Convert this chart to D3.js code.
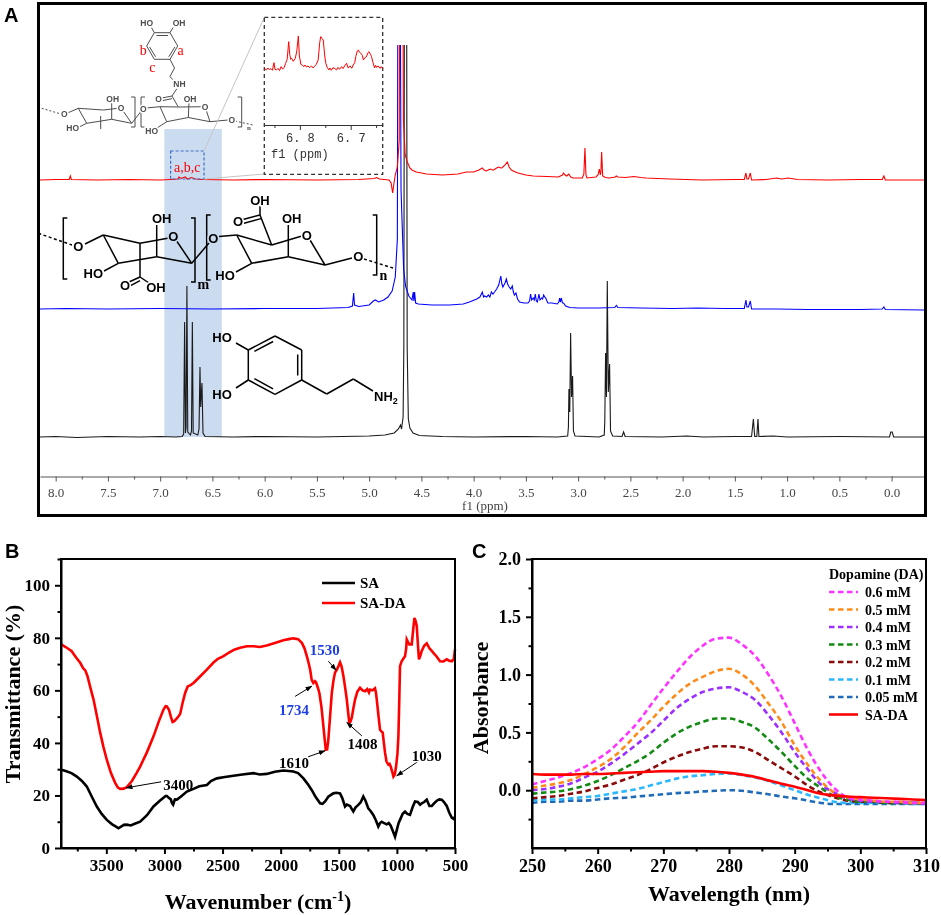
<!DOCTYPE html>
<html lang="en">
<head>
<meta charset="UTF-8">
<title>SA-DA characterization</title>
<script src="https://d3js.org/d3.v7.min.js"></script>
<style>
  body { margin: 0; background: #fff; }
  svg { display: block; }
</style>
</head>
<body>
<svg id="fig" width="941" height="915"></svg>
<script>
// ---------- data: panel A (1H NMR, ppm / height above each trace's baseline) ----------
const nmrDA = [[8.15,0],[8.0,0.5],[7.8,-0.5],[7.5,0.5],[7.2,0],[7.0,0.5],[6.85,0],[6.79,0.5],[6.775,3],[6.766,115],[6.758,4],[6.752,10],[6.744,151],[6.736,5],[6.71,2],[6.700,6],[6.692,115],[6.684,4],[6.64,2],[6.628,8],[6.619,70],[6.612,30],[6.600,54],[6.590,4],[6.57,0.5],[6.3,0],[6.0,0.5],[5.5,0],[5.0,1],[4.85,2],[4.76,4],[4.72,8],[4.70,12],[4.69,8],[4.675,20],[4.668,90],[4.662,500],[4.642,500],[4.636,90],[4.625,18],[4.61,9],[4.58,4],[4.52,1.5],[4.3,0.5],[4.0,0],[3.5,0.5],[3.2,0],[3.10,1],[3.093,10],[3.088,48],[3.080,25],[3.072,104],[3.063,40],[3.053,61],[3.045,6],[3.03,1],[2.80,0],[2.75,2],[2.745,15],[2.737,84],[2.729,40],[2.721,156],[2.711,45],[2.699,73],[2.69,6],[2.67,1],[2.58,0.5],[2.565,5],[2.55,0.5],[2.2,0],[1.96,1],[1.8,0],[1.50,0.5],[1.34,0.5],[1.323,18],[1.31,0.5],[1.29,0.5],[1.279,18],[1.27,0.5],[1.13,1],[1.0,0],[0.5,0.5],[0.02,0],[0.008,5],[-0.005,5],[-0.02,0],[-0.31,0]];

const nmrSA = [[8.15,0],[7.9,0.5],[7.5,0],[7.0,0.5],[6.5,0],[6.0,0.5],[5.5,0.5],[5.2,1.5],[5.16,3],[5.148,16],[5.14,4],[5.10,2.5],[5.0,4],[4.96,8],[4.94,9],[4.91,7],[4.86,9],[4.82,12],[4.78,18],[4.75,32],[4.73,70],[4.722,500],[4.708,500],[4.695,120],[4.67,40],[4.65,22],[4.62,13],[4.59,9],[4.578,17],[4.572,8],[4.565,17],[4.555,6],[4.53,5],[4.40,4],[4.23,4],[4.10,5],[4.04,7],[3.97,10],[3.94,12],[3.917,17],[3.905,12],[3.895,13],[3.875,12],[3.86,14],[3.845,12],[3.83,17],[3.815,15],[3.80,17],[3.78,20],[3.76,24],[3.74,33],[3.73,25],[3.72,22],[3.70,26],[3.687,30],[3.675,25],[3.66,22],[3.645,20],[3.63,23],[3.62,17],[3.61,14],[3.595,16],[3.58,10],[3.56,7],[3.52,6],[3.48,6],[3.465,8],[3.455,15],[3.445,9],[3.43,11],[3.42,9],[3.41,15],[3.40,8],[3.39,7],[3.375,15],[3.365,9],[3.35,11],[3.34,10],[3.33,14],[3.32,12],[3.31,11],[3.29,6],[3.25,6],[3.20,5],[3.185,7],[3.177,11],[3.17,7],[3.16,11],[3.15,6],[3.14,6],[3.12,3],[3.08,1.5],[3.0,1],[2.80,1],[2.65,1.5],[2.634,3.5],[2.62,1.5],[2.4,1],[2.1,0.5],[1.85,1],[1.6,0.5],[1.41,0.5],[1.394,9],[1.385,2],[1.37,2],[1.352,8],[1.34,0],[1.1,0],[0.8,-0.5],[0.3,-0.5],[0.09,0],[0.074,2],[0.06,-0.5],[-0.31,-1]];

const nmrSADA = [[8.15,0],[8.0,0.5],[7.87,0.5],[7.86,4],[7.85,0.5],[7.6,0],[7.3,0.5],[7.0,0],[6.90,0.5],[6.83,1],[6.82,3],[6.80,1.5],[6.76,3],[6.74,1],[6.70,2.5],[6.66,1],[6.6,0.5],[6.3,0],[6.0,0.5],[5.5,0],[5.1,0.5],[4.95,1.5],[4.93,2.5],[4.90,1],[4.81,0],[4.79,-3],[4.775,-13],[4.765,-5],[4.75,5],[4.73,13],[4.712,40],[4.700,500],[4.688,500],[4.672,60],[4.655,25],[4.635,18],[4.61,12],[4.59,10],[4.55,8],[4.45,6],[4.30,5],[4.15,6],[4.07,8],[4.0,8],[3.95,10],[3.917,12],[3.90,10],[3.88,9],[3.86,10],[3.84,11],[3.82,10],[3.81,10],[3.78,12],[3.76,13],[3.74,12],[3.73,12],[3.70,15],[3.678,18],[3.66,13],[3.64,10],[3.60,8],[3.575,7],[3.50,5],[3.43,4],[3.30,3.5],[3.19,3],[3.15,5],[3.14,7],[3.125,5],[3.11,4],[3.09,6],[3.07,3],[3.05,2],[2.96,2],[2.945,6],[2.935,32],[2.925,5],[2.915,2],[2.83,3],[2.81,5],[2.797,11],[2.788,5],[2.782,8],[2.775,28],[2.765,4],[2.74,2.5],[2.70,2],[2.645,3],[2.635,4],[2.62,3],[2.55,2.5],[2.466,3.5],[2.40,2.5],[2.35,2],[2.12,1],[1.81,0],[1.5,0.5],[1.41,0.5],[1.394,7],[1.385,1],[1.37,1],[1.352,7],[1.34,0],[1.2,0.5],[1.10,2],[1.05,1],[0.99,2],[0.9,0.5],[0.6,0],[0.3,0.5],[0.09,0.5],[0.074,4],[0.06,0],[-0.31,0]];

// zoomed aromatic region of SA-DA (ppm / relative intensity)
const nmrInset = [[6.870,3],[6.866,-2],[6.863,4],[6.860,-1],[6.857,2],[6.854,-3],[6.851,20],[6.849,0],[6.846,-2],[6.843,3],[6.840,-4],[6.837,8],[6.834,1],[6.831,5],[6.828,18],[6.825,30],[6.822,83],[6.820,45],[6.818,30],[6.816,33],[6.813,24],[6.811,28],[6.809,33],[6.806,55],[6.803,100],[6.801,40],[6.798,15],[6.795,12],[6.792,8],[6.790,13],[6.787,7],[6.784,10],[6.781,5],[6.777,10],[6.774,4],[6.771,9],[6.768,14],[6.764,28],[6.761,80],[6.759,98],[6.756,92],[6.754,88],[6.751,40],[6.749,18],[6.746,5],[6.743,-2],[6.741,4],[6.738,-3],[6.735,5],[6.731,2],[6.728,-2],[6.725,6],[6.722,0],[6.718,8],[6.715,2],[6.712,10],[6.708,18],[6.705,4],[6.701,10],[6.698,3],[6.695,13],[6.692,20],[6.690,38],[6.687,55],[6.685,58],[6.682,50],[6.680,48],[6.677,42],[6.675,28],[6.672,35],[6.669,38],[6.666,50],[6.664,53],[6.661,45],[6.659,38],[6.656,20],[6.653,4],[6.651,12],[6.649,6],[6.646,10],[6.642,3],[6.640,8],[6.637,2]];

const ppmMajor = [8.0,7.5,7.0,6.5,6.0,5.5,5.0,4.5,4.0,3.5,3.0,2.5,2.0,1.5,1.0,0.5,0.0];
const ppmMinor = [7.75,7.25,6.75,6.25,5.75,5.25,4.75,4.25,3.75,3.25,2.75,2.25,1.75,1.25,0.75,0.25];
const insetMajor = [6.8, 6.7];
const insetMinor = [6.85, 6.75, 6.65];

// ---------- data: panel B (FTIR, wavenumber / transmittance %) ----------
const ftirSA = [[3888,29.8],[3850,29.3],[3800,28.5],[3754,27.2],[3710,25.5],[3668,23.4],[3630,20],[3582,15.8],[3540,13],[3496,10.7],[3450,9],[3420,8.2],[3396,7.5],[3370,8.2],[3350,8.8],[3323,8.9],[3290,8.6],[3250,9.3],[3209,10],[3150,12.5],[3094,15.8],[3040,18],[2990,19.8],[2979,19.8],[2960,19],[2945,18.5],[2936,17.2],[2925,16.5],[2910,18.5],[2893,18.4],[2860,19.5],[2807,21.5],[2750,22.5],[2700,23.5],[2635,24],[2600,25.5],[2549,26.5],[2480,27],[2406,27.5],[2330,28],[2235,28.5],[2180,28],[2120,28.2],[2050,29],[1977,29.5],[1930,29.3],[1891,29.1],[1850,28.5],[1804,26.5],[1770,24.5],[1733,22.1],[1700,19.5],[1661,17],[1640,16.8],[1618,17.7],[1590,19.5],[1547,20.8],[1520,21],[1489,20.8],[1470,19],[1446,15.8],[1430,16.5],[1403,16],[1390,15],[1375,13.9],[1355,15.5],[1332,16.4],[1310,17.5],[1289,19.6],[1270,18],[1246,15.1],[1225,14],[1203,12.6],[1180,10.5],[1160,8.2],[1145,9.5],[1131,10],[1110,9.5],[1088,9],[1070,9.5],[1053,8.5],[1035,6.5],[1016,4.3],[1000,7],[985,9.5],[973,10.7],[950,13],[930,13.9],[910,13],[887,12.6],[865,15.5],[844,17.7],[820,17.5],[800,16.5],[786,17],[765,17.5],[743,18.4],[720,16],[700,16],[680,17],[657,18],[635,18.5],[614,18.4],[595,17.5],[571,16],[550,13.5],[528,11.6],[510,11],[500,12]];

const ftirSADA = [[3888,77.5],[3850,76.5],[3800,75],[3760,72.5],[3725,70.5],[3700,68.5],[3680,67.5],[3662,65.4],[3640,61.5],[3610,56.5],[3580,50],[3553,43.9],[3525,38.5],[3496,33.6],[3460,28.5],[3424,24.8],[3400,23],[3381,22.5],[3350,22.6],[3323,23.2],[3280,25.5],[3240,28.5],[3209,31],[3150,36.5],[3094,42.5],[3050,48],[3008,52.7],[2990,54],[2979,53.9],[2960,52.5],[2945,50],[2930,48],[2915,48.3],[2890,49.5],[2865,51],[2845,55],[2822,59],[2800,61.5],[2775,62],[2750,62.8],[2700,65],[2635,67.9],[2580,70.5],[2540,72],[2492,73],[2440,74.5],[2400,75.5],[2349,76.2],[2290,76.8],[2235,76.8],[2180,76.5],[2120,77.1],[2050,78],[1977,79.1],[1930,79.5],[1891,79.8],[1850,79.5],[1818,78.1],[1795,76],[1775,73],[1760,70.5],[1747,68],[1733,64],[1719,62.8],[1705,63.5],[1695,63],[1680,61],[1667,59],[1650,54],[1638,48.9],[1625,43],[1612,37.4],[1600,37.5],[1590,41.2],[1575,50],[1560,59],[1545,64],[1532,66.8],[1515,68],[1503,69.2],[1489,70.7],[1475,69],[1460,65.4],[1445,61],[1431,56.5],[1418,51],[1409,47.6],[1400,48],[1388,49.6],[1375,53],[1360,56.5],[1340,59.5],[1317,61],[1295,60],[1274,59.7],[1255,60.5],[1240,59.2],[1231,60.3],[1210,60],[1188,60.8],[1180,59],[1173,56.5],[1160,51],[1145,45],[1135,44.5],[1122,43.9],[1112,40],[1102,36.3],[1090,33],[1073,31.7],[1063,32],[1053,31],[1040,29],[1030,27.2],[1018,28],[1007,31],[995,36],[987,42.5],[980,55],[973,69.2],[960,71],[945,72],[930,73],[920,76],[915,79.4],[905,78.5],[893,77.5],[872,77.5],[860,83],[849,87.6],[840,86.5],[829,84.5],[820,78],[810,71.8],[800,73],[786,75],[765,77],[743,77.9],[720,76],[700,75],[686,74.3],[660,73],[629,71.1],[600,71],[571,71.8],[550,71.3],[528,71.1],[510,72],[500,75.6]];

const ftirXMajor = [3500,3000,2500,2000,1500,1000,500];
const ftirXMinor = [3750,3250,2750,2250,1750,1250,750];
const ftirYMajor = [0,20,40,60,80,100];
const ftirYMinor = [10,30,50,70,90,110];

// peak labels: text, colour, arrow tail, arrow tip, text anchor point (all in data units)
const ftirPeaks = [
  {label: "3400", blue: false, tail: [3028,25.2], tip: [3329,22.9], at: [3011,22.1]},
  {label: "1610", blue: false, tail: [1764,34.7], tip: [1618,37.0], at: [2015,30.5]},
  {label: "1734", blue: true,  tail: [1876,57.7], tip: [1732,61.6], at: [2015,50.5]},
  {label: "1530", blue: true,  tail: [1590,71.1], tip: [1523,67.7], at: [1750,73.5]},
  {label: "1408", blue: false, tail: [1302,42.7], tip: [1431,47.8], at: [1426,37.8]},
  {label: "1030", blue: false, tail: [829,32.6],  tip: [1001,27.5], at: [872,33]}
];

// ---------- data: panel C (UV-vis, nm / absorbance) ----------
const uvWavelength = [250,252,254,256,258,260,262,264,266,268,270,272,274,276,278,280,282,284,286,288,290,292,294,296,298,300,302,304,306,308,310];
const uv06  = [0.05,0.08,0.11,0.15,0.20,0.27,0.35,0.46,0.58,0.73,0.88,1.02,1.15,1.25,1.31,1.32,1.26,1.16,1.00,0.81,0.58,0.35,0.16,0.02,-0.06,-0.08,-0.09,-0.10,-0.10,-0.11,-0.11];
const uv05  = [0.02,0.04,0.06,0.09,0.14,0.20,0.27,0.37,0.49,0.60,0.72,0.83,0.92,0.98,1.03,1.05,1.00,0.90,0.75,0.59,0.39,0.22,0.08,-0.02,-0.06,-0.08,-0.09,-0.10,-0.10,-0.11,-0.11];
const uv04  = [0.00,0.01,0.03,0.06,0.11,0.16,0.23,0.31,0.40,0.49,0.60,0.71,0.79,0.85,0.88,0.89,0.85,0.78,0.65,0.50,0.33,0.18,0.05,-0.02,-0.07,-0.09,-0.10,-0.10,-0.11,-0.11,-0.12];
const uv03  = [-0.03,-0.02,-0.01,0.01,0.04,0.08,0.13,0.19,0.25,0.32,0.41,0.49,0.55,0.59,0.62,0.62,0.59,0.54,0.44,0.33,0.21,0.10,0.02,-0.05,-0.08,-0.10,-0.10,-0.11,-0.11,-0.11,-0.12];
const uv02  = [-0.07,-0.06,-0.05,-0.03,-0.01,0.02,0.05,0.09,0.13,0.18,0.24,0.29,0.33,0.36,0.38,0.38,0.37,0.33,0.26,0.19,0.12,0.04,-0.02,-0.06,-0.09,-0.10,-0.10,-0.11,-0.11,-0.11,-0.11];
const uv01  = [-0.09,-0.08,-0.08,-0.07,-0.06,-0.05,-0.03,-0.01,0.01,0.04,0.07,0.10,0.12,0.13,0.14,0.145,0.13,0.11,0.08,0.04,0.00,-0.04,-0.07,-0.10,-0.11,-0.11,-0.11,-0.11,-0.11,-0.12,-0.12];
const uv005 = [-0.11,-0.10,-0.10,-0.09,-0.09,-0.08,-0.07,-0.065,-0.055,-0.045,-0.035,-0.025,-0.02,-0.01,-0.005,0.00,-0.005,-0.02,-0.035,-0.055,-0.07,-0.09,-0.11,-0.12,-0.12,-0.12,-0.12,-0.12,-0.12,-0.12,-0.12];
const uvSADA = [0.14,0.135,0.135,0.135,0.14,0.14,0.145,0.15,0.155,0.16,0.165,0.165,0.165,0.165,0.16,0.15,0.135,0.115,0.085,0.055,0.03,0.00,-0.03,-0.045,-0.055,-0.06,-0.065,-0.07,-0.075,-0.08,-0.085];
const uvLabels = ["0.6 mM","0.5 mM","0.4 mM","0.3 mM","0.2 mM","0.1 mM","0.05 mM","SA-DA"];
const uvXMajor = [250,260,270,280,290,300,310];
const uvXMinor = [255,265,275,285,295,305];
const uvYMajor = [0,0.5,1.0,1.5,2.0];
const uvYMinor = [-0.25,0.25,0.75,1.25,1.75];

// ---------- setup ----------
const SERIF = "'Liberation Serif', 'Times New Roman', serif";
const SANS = "'Liberation Sans', Arial, sans-serif";
const svg = d3.select("#fig");
const defs = svg.append("defs");

defs.append("marker").attr("id", "arrow")
    .attr("viewBox", "0 0 10 10").attr("refX", 9).attr("refY", 5)
    .attr("markerWidth", 7).attr("markerHeight", 7).attr("markerUnits", "userSpaceOnUse")
    .attr("orient", "auto")
  .append("path").attr("d", "M0,1.5 L10,5 L0,8.5 z").attr("fill", "#000");

function panelLabel(txt, x, y) {
  svg.append("text").attr("x", x).attr("y", y)
     .attr("font-family", SANS).attr("font-weight", "bold").attr("font-size", 20)
     .text(txt);
}

// ================= Panel A =================
const xA = d3.scaleLinear().domain([8.15, -0.31]).range([40, 924]);
const yA = d3.scaleLinear().domain([0, 471]).range([476, 5]);

defs.append("clipPath").attr("id", "clipA")
  .append("rect").attr("x", 40).attr("y", 45).attr("width", 884).attr("height", 431);

const gA = svg.append("g");

// chemical structures (drawn as illustration)
function bonds(g, segs, color, w, dash) {
  g.selectAll(null).data(segs).join("line")
    .attr("x1", d => d[0]).attr("y1", d => d[1]).attr("x2", d => d[2]).attr("y2", d => d[3])
    .attr("stroke", color).attr("stroke-width", w)
    .attr("stroke-dasharray", dash || null);
}
function atoms(g, list, color, size) {
  g.selectAll(null).data(list).join("text")
    .attr("x", d => d[1]).attr("y", d => d[2])
    .attr("text-anchor", "middle").attr("dominant-baseline", "central")
    .attr("font-family", SANS).attr("font-weight", "bold").attr("font-size", size)
    .attr("fill", color).attr("stroke", "#fff").attr("stroke-width", 3)
    .attr("paint-order", "stroke").text(d => d[0]);
}
function brackets(g, list, color, w) {
  g.selectAll(null).data(list).join("path")
    .attr("d", d => `M${d[0] + d[3] * 4},${d[1]} L${d[0]},${d[1]} L${d[0]},${d[2]} L${d[0] + d[3] * 4},${d[2]}`)
    .attr("fill", "none").attr("stroke", color).attr("stroke-width", w);
}

// SA-DA (top, grey)
const s1 = gA.append("g");
const g1 = "#4d4d4d";
bonds(s1, [
  [154.3,32.7,170,32.7],[170,32.7,177.7,46],[177.7,46,170,59.3],[170,59.3,154.3,59.3],[154.3,59.3,146.7,46],[146.7,46,154.3,32.7],
  [156.5,35.5,168,35.5],[174.8,47,168.8,56.8],[149.6,47,155.6,56.8],
  [154.3,32.7,151.5,27.5],[170,32.7,173,27.5],
  [170,59.3,174.5,68],[174.5,68,170,76.5],[170,76.5,173.5,80.5],
  [177,88.5,172,96],[172,96,162,98],[172,98.6,162.6,100.6],[172,96,178,106.5],
  [67.5,113,78.3,108.3],[78.3,108.3,86.7,123.3],[86.7,123.3,111.7,119.3],[111.7,119.3,131.7,123.3],[131.7,123.3,121,108],[121,108,103.3,110],[103.3,110,78.3,108.3],
  [111.7,103,111.7,119.3],[86.7,123.3,79,127],[100.7,116,100.7,129],
  [131.7,123.3,140.5,112],[146,108,160,106.7],
  [160,106.7,166.7,121.7],[166.7,121.7,188.3,117.5],[188.3,117.5,210,121.7],[210,121.7,205,106.7],[205,106.7,180,107],[180,107,160,106.7],
  [189,103,188.3,117.5],[166.7,121.7,157,128],[210,121.7,228,120]
], g1, 1);
bonds(s1, [[41.7,108.3,61,114],[235,121,253,125]], g1, 1, "2,2");
brackets(s1, [[135,97,127,-1],[141,97,127,1],[241.7,97,127,-1]], g1, 1);
atoms(s1, [["HO",146.7,23.3],["OH",179,23.3],["NH",179.5,84],["O",158.5,98.8],["O",64.3,114.3],["OH",112.7,99.3],["HO",72.7,128.3],
           ["O",121,107.5],["O",143.3,109.3],["OH",190,99.3],["HO",151.7,130.7],["O",205,106.5],["O",231.7,120]], g1, 8.5);
s1.append("text").attr("x", 247).attr("y", 130).attr("font-family", SERIF).attr("font-weight", "bold")
  .attr("font-size", 7).attr("fill", g1).text("n");
s1.selectAll(null).data([["b",143.3,55],["a",180.7,55],["c",152.3,72]]).join("text")
  .attr("x", d => d[1]).attr("y", d => d[2]).attr("text-anchor", "middle")
  .attr("font-family", SERIF).attr("font-size", 14).attr("fill", "#ff0000").text(d => d[0]);

// SA (middle, black)
const s2 = gA.append("g");
bonds(s2, [
  [85,244,103.3,235],
  [103.3,235,118.3,263.3],[118.3,263.3,156.7,256.7],[156.7,256.7,191.7,263.3],[191.7,263.3,177,241.5],[169,238,140,243.3],[140,243.3,103.3,235],
  [140,243.3,140,277],[140,277,129,282],[140,280.6,130.6,285.6],[140,277,149,283],
  [156.7,256.7,156.7,225],[118.3,263.3,104,271],
  [191.7,263.3,209,243],[219,236.5,236.7,235],
  [236.7,235,251.7,263.3],[251.7,263.3,288.3,256.7],[288.3,256.7,325,265],[325,265,310,240],[302,236,271.7,245],[271.7,245,236.7,235],
  [271.7,245,260,215],[260,215,243,219.5],[261,218.6,244,223.2],[260,215,260,206],
  [288.3,256.7,288.3,225],[251.7,263.3,236,272],[325,265,352,258]
], "#000", 1.5);
bonds(s2, [[38.3,233.3,72,245],[364,259,393,268]], "#000", 1.5, "3,2.5");
brackets(s2, [[63.3,218,279,1],[195,218,282,-1],[206.7,215,280,1],[376.7,215,275,-1]], "#000", 1.5);
atoms(s2, [["O",78.3,246.7],["O",173.3,236.7],["OH",161.7,218.3],["HO",93.3,273.3],["O",125,285.5],["OH",156,287],
           ["O",213.3,238.3],["O",306.7,235],["O",238,221.7],["OH",260,200],["OH",291.7,218.3],["HO",225,275],["O",358.3,256.7]], "#000", 13);
s2.selectAll(null).data([["m",203.3,289],["n",383.3,280]]).join("text")
  .attr("x", d => d[1]).attr("y", d => d[2]).attr("text-anchor", "middle")
  .attr("font-family", SERIF).attr("font-weight", "bold").attr("font-size", 14).text(d => d[0]);

// dopamine (bottom, black)
const s3 = gA.append("g");
bonds(s3, [
  [275,336,301.7,350],[301.7,350,301.7,380],[301.7,380,275,394.3],[275,394.3,248.3,380],[248.3,380,248.3,350],[248.3,350,275,336],
  [254.4,351.3,273.1,341.5],[297.7,354.5,297.7,375.5],[254.4,378.7,273.1,388.8],
  [248.3,350,236,343],[248.3,380,236,388],
  [301.7,380,326.7,394],[326.7,394,353.3,379],[353.3,379,373,391]
], "#000", 1.5);
atoms(s3, [["HO",222,337],["HO",222,394]], "#000", 13);
s3.append("text").attr("x", 374).attr("y", 401).attr("font-family", SANS).attr("font-weight", "bold")
  .attr("font-size", 13).attr("paint-order", "stroke").attr("stroke", "#fff").attr("stroke-width", 3)
  .text("NH").append("tspan").attr("font-size", 9).attr("dy", 3).text("2");

// highlighted aromatic band
gA.append("rect")
  .attr("x", xA(6.96)).attr("width", xA(6.41) - xA(6.96))
  .attr("y", 129).attr("height", yA(39) - 129)
  .attr("fill", "#cbdcf0").style("mix-blend-mode", "multiply");

// spectra
const traces = [
  {data: nmrDA,   off: 39,  color: "#1a1a1a"},
  {data: nmrSA,   off: 167, color: "#0000ff"},
  {data: nmrSADA, off: 296, color: "#ff0000"}
];
gA.append("g").attr("clip-path", "url(#clipA)")
  .selectAll("path").data(traces).join("path")
  .attr("d", t => d3.line().x(d => xA(d[0])).y(d => yA(t.off + d[1]))(t.data))
  .attr("fill", "none").attr("stroke", t => t.color).attr("stroke-width", 1.1);

// small marker box around a,b,c and link to inset
gA.append("rect").attr("x", xA(6.90)).attr("y", 151).attr("width", xA(6.58) - xA(6.90)).attr("height", 28)
  .attr("fill", "none").attr("stroke", "#3d6ec9").attr("stroke-width", 1.2).attr("stroke-dasharray", "3,2");
gA.append("text").attr("x", (xA(6.90) + xA(6.58)) / 2).attr("y", 172).attr("text-anchor", "middle")
  .attr("font-family", SERIF).attr("font-size", 14).attr("fill", "#ff0000").text("a,b,c");
bonds(gA, [[xA(6.58),151,264.3,17.3],[xA(6.58),179,264.3,174]], "#c4c4c4", 1);

// inset
const xI = d3.scaleLinear().domain([6.870, 6.637]).range([264.3, 382.7]);
const yI = d3.scaleLinear().domain([0, 100]).range([69.3, 36]);
const gI = gA.append("g");
gI.append("rect").attr("x", 264.3).attr("y", 17.3).attr("width", 118.4).attr("height", 157)
  .attr("fill", "#fff").attr("stroke", "#333").attr("stroke-width", 1.3).attr("stroke-dasharray", "4,3");
gI.append("path").datum(nmrInset)
  .attr("d", d3.line().x(d => xI(d[0])).y(d => yI(d[1])))
  .attr("fill", "none").attr("stroke", "#ff0000").attr("stroke-width", 1);
const axI = gI.append("g").attr("transform", "translate(0,125)")
  .call(d3.axisBottom(xI).tickValues(insetMajor).tickSize(5).tickSizeOuter(0)
        .tickFormat(d => d.toFixed(1).replace(".", ". ")));
axI.append("g").call(d3.axisBottom(xI).tickValues(insetMinor).tickSize(3).tickFormat(""))
  .select(".domain").remove();
axI.selectAll("path,line").attr("stroke", "#333");
axI.selectAll("text").attr("font-family", "'Liberation Mono', monospace").attr("font-size", 12).attr("fill", "#333");
gI.append("text").attr("x", 271).attr("y", 158).attr("font-family", "'Liberation Mono', monospace")
  .attr("font-size", 12).attr("fill", "#333").text("f1 (ppm)");

// ppm axis
const axA = gA.append("g").attr("transform", "translate(0,476.5)")
  .call(d3.axisBottom(xA).tickValues(ppmMajor).tickSize(5).tickSizeOuter(0).tickPadding(6)
        .tickFormat(d3.format(".1f")));
axA.append("g").call(d3.axisBottom(xA).tickValues(ppmMinor).tickSize(3).tickFormat(""))
  .select(".domain").remove();
axA.selectAll("path,line").attr("stroke", "#555");
axA.selectAll("text").attr("font-family", SERIF).attr("font-size", 13).attr("fill", "#444");
gA.append("text").attr("x", 485).attr("y", 510).attr("text-anchor", "middle")
  .attr("font-family", SERIF).attr("font-size", 13).attr("fill", "#444").text("f1 (ppm)");

// frame
gA.append("rect").attr("x", 38.5).attr("y", 3.5).attr("width", 887).attr("height", 512)
  .attr("fill", "none").attr("stroke", "#000").attr("stroke-width", 3);
panelLabel("A", 4, 22);

// ================= shared axis styling for B and C =================
function boldAxes(g, size) {
  g.selectAll("path,line").attr("stroke", "#000").attr("stroke-width", 2);
  g.selectAll("text").attr("font-family", SERIF).attr("font-weight", "bold")
    .attr("font-size", size).attr("fill", "#000");
}
function frameAxes(x, y, xMaj, xMin, yMaj, yMin, yFmt, size) {
  const [x0, x1] = x.range(), [y0, y1] = y.range();
  const g = svg.append("g");
  const ax = g.append("g").attr("transform", `translate(0,${y0})`)
    .call(d3.axisBottom(x).tickValues(xMaj).tickSize(6).tickSizeOuter(0).tickPadding(5).tickFormat(d3.format("d")));
  ax.append("g").call(d3.axisBottom(x).tickValues(xMin).tickSize(3.5).tickFormat("")).select(".domain").remove();
  const ay = g.append("g").attr("transform", `translate(${x0},0)`)
    .call(d3.axisLeft(y).tickValues(yMaj).tickSize(6).tickSizeOuter(0).tickPadding(5).tickFormat(yFmt));
  ay.append("g").call(d3.axisLeft(y).tickValues(yMin).tickSize(3.5).tickFormat("")).select(".domain").remove();
  boldAxes(ax, size); boldAxes(ay, size);
  g.append("rect").attr("x", x0).attr("y", y1).attr("width", x1 - x0).attr("height", y0 - y1)
    .attr("fill", "none").attr("stroke", "#000").attr("stroke-width", 2);
  return g;
}

// ================= Panel B =================
const xB = d3.scaleLinear().domain([3890, 500]).range([61, 455]);
const yB = d3.scaleLinear().domain([0, 110]).range([848, 559]);
const ftirLine = d3.line().x(d => xB(d[0])).y(d => yB(d[1]));

svg.append("path").datum(ftirSA).attr("d", ftirLine)
  .attr("fill", "none").attr("stroke", "#000").attr("stroke-width", 2.6);
svg.append("path").datum(ftirSADA).attr("d", ftirLine)
  .attr("fill", "none").attr("stroke", "#ff0000").attr("stroke-width", 2.6);

frameAxes(xB, yB, ftirXMajor, ftirXMinor, ftirYMajor, ftirYMinor, d3.format("d"), 17);

const gPk = svg.append("g");
gPk.selectAll("line").data(ftirPeaks).join("line")
  .attr("x1", d => xB(d.tail[0])).attr("y1", d => yB(d.tail[1]))
  .attr("x2", d => xB(d.tip[0])).attr("y2", d => yB(d.tip[1]))
  .attr("stroke", "#000").attr("stroke-width", 1).attr("marker-end", "url(#arrow)");
gPk.selectAll("text").data(ftirPeaks).join("text")
  .attr("x", d => xB(d.at[0])).attr("y", d => yB(d.at[1]))
  .attr("font-family", SERIF).attr("font-weight", "bold").attr("font-size", 15)
  .attr("fill", d => d.blue ? "#1f3fe6" : "#000").text(d => d.label);

const legB = svg.append("g");
[["SA", "#000"], ["SA-DA", "#ff0000"]].forEach(([name, c], i) => {
  const y = 583 + i * 20;
  legB.append("line").attr("x1", 322).attr("x2", 355).attr("y1", y).attr("y2", y)
    .attr("stroke", c).attr("stroke-width", 2.6);
  legB.append("text").attr("x", 360).attr("y", y + 5)
    .attr("font-family", SERIF).attr("font-weight", "bold").attr("font-size", 15).text(name);
});

const wnTitle = svg.append("text").attr("x", 258).attr("y", 909).attr("text-anchor", "middle")
  .attr("font-family", SERIF).attr("font-weight", "bold").attr("font-size", 22);
wnTitle.append("tspan").text("Wavenumber (cm");
wnTitle.append("tspan").attr("font-size", 14).attr("dy", -8).text("-1");
wnTitle.append("tspan").attr("dy", 8).text(")");
svg.append("text").attr("transform", "translate(20,694) rotate(-90)").attr("text-anchor", "middle")
  .attr("font-family", SERIF).attr("font-weight", "bold").attr("font-size", 22)
  .text("Transmittance (%)");
panelLabel("B", 5, 558);

// ================= Panel C =================
const xC = d3.scaleLinear().domain([250, 310]).range([532, 926]);
const yC = d3.scaleLinear().domain([-0.5, 2.0]).range([848, 559]);
const uvSeries = [
  {name: uvLabels[0], values: uv06,   color: "#ff33ff", dashed: true},
  {name: uvLabels[1], values: uv05,   color: "#ff8c1a", dashed: true},
  {name: uvLabels[2], values: uv04,   color: "#9b30ff", dashed: true},
  {name: uvLabels[3], values: uv03,   color: "#138a13", dashed: true},
  {name: uvLabels[4], values: uv02,   color: "#8b0a0a", dashed: true},
  {name: uvLabels[5], values: uv01,   color: "#2bb8ff", dashed: true},
  {name: uvLabels[6], values: uv005,  color: "#1f6bb8", dashed: true},
  {name: uvLabels[7], values: uvSADA, color: "#ff0000", dashed: false}
];
const uvLine = d3.line().curve(d3.curveMonotoneX)
  .x((d, i) => xC(uvWavelength[i])).y(d => yC(d));

// draw low concentrations first so the strongest curves sit on top, SA-DA last
svg.append("g").selectAll("path").data(uvSeries.slice(0, 7).reverse().concat([uvSeries[7]])).join("path")
  .attr("d", s => uvLine(s.values))
  .attr("fill", "none").attr("stroke", s => s.color).attr("stroke-width", 2.6)
  .attr("stroke-dasharray", s => s.dashed ? "5.5,3.5" : null);

frameAxes(xC, yC, uvXMajor, uvXMinor, uvYMajor, uvYMinor, d3.format(".1f"), 18);

const legC = svg.append("g");
legC.append("text").attr("x", 829).attr("y", 579)
  .attr("font-family", SERIF).attr("font-weight", "bold").attr("font-size", 14).text("Dopamine (DA)");
uvSeries.forEach((s, i) => {
  const y = 592 + i * 17.5;
  legC.append("line").attr("x1", 829).attr("x2", 858).attr("y1", y).attr("y2", y)
    .attr("stroke", s.color).attr("stroke-width", 2.6)
    .attr("stroke-dasharray", s.dashed ? "5.5,3.5" : null);
  legC.append("text").attr("x", 865).attr("y", y + 5)
    .attr("font-family", SERIF).attr("font-weight", "bold").attr("font-size", 14).text(s.name);
});

svg.append("text").attr("x", 729).attr("y", 901).attr("text-anchor", "middle")
  .attr("font-family", SERIF).attr("font-weight", "bold").attr("font-size", 22).text("Wavelength (nm)");
svg.append("text").attr("transform", "translate(488,698) rotate(-90)").attr("text-anchor", "middle")
  .attr("font-family", SERIF).attr("font-weight", "bold").attr("font-size", 22).text("Absorbance");
panelLabel("C", 472, 558);
</script>
</body>
</html>
